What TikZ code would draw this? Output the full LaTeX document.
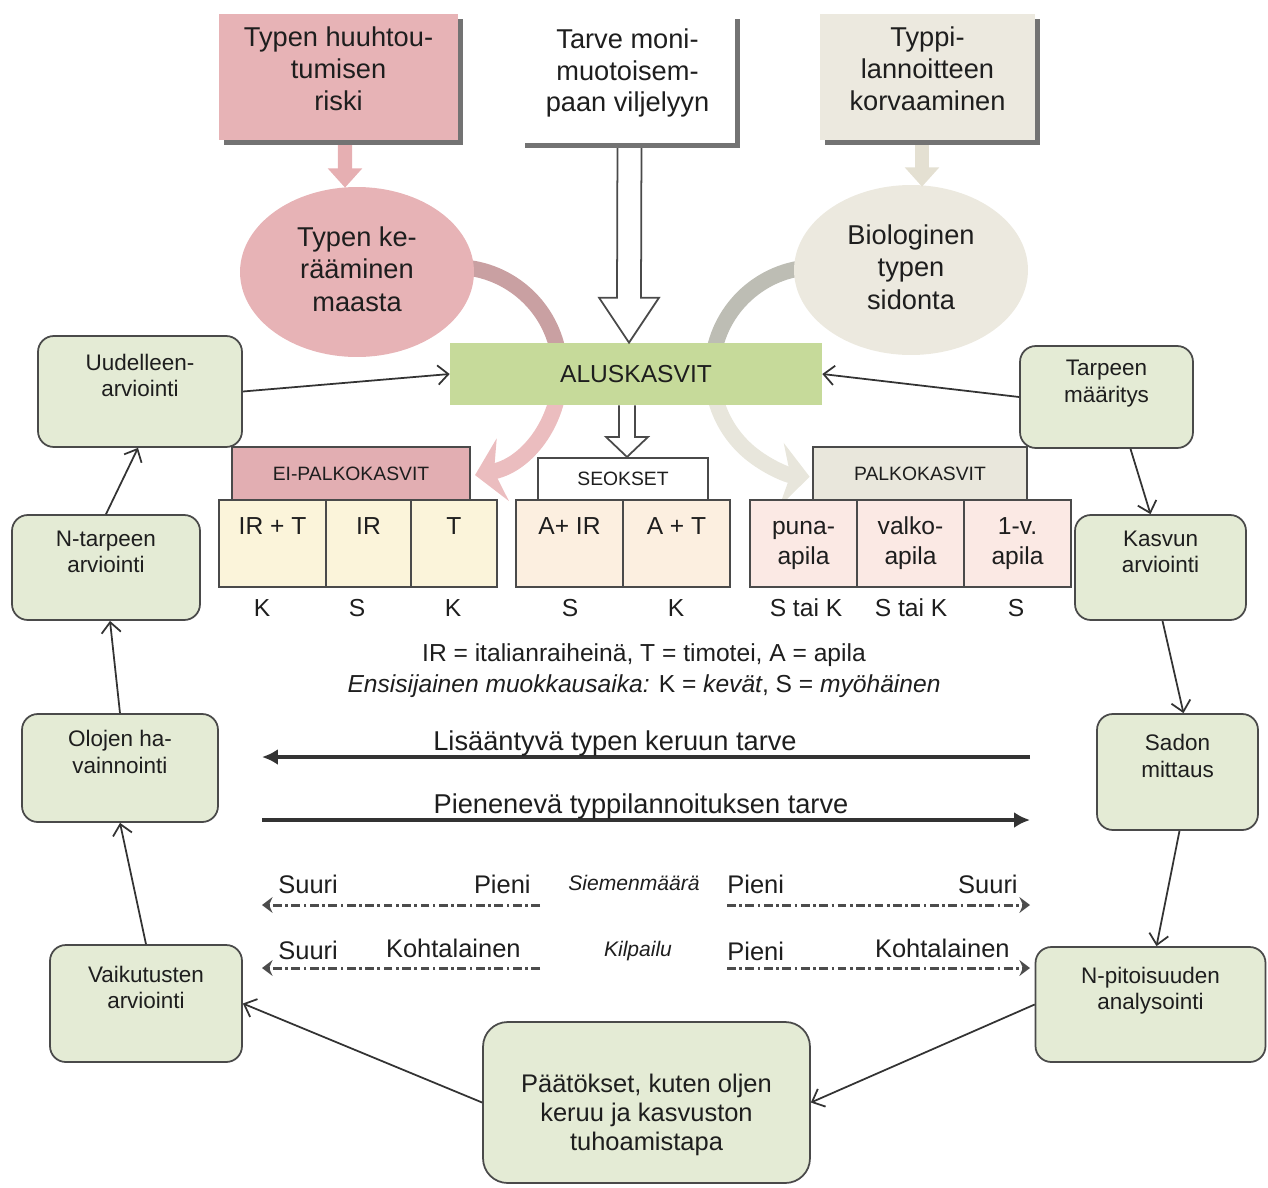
\documentclass[tikz,border=0pt]{standalone}
\usepackage{fontspec}
\setmainfont{Liberation Sans}
\usetikzlibrary{arrows.meta,shapes.geometric,calc,shadows}
\definecolor{pinkA}{HTML}{E7B3B6}
\definecolor{pinkArr}{HTML}{E6AFB2}
\definecolor{pinkArc}{HTML}{C9A0A2}
\definecolor{pinkArcL}{HTML}{EBBDBF}
\definecolor{beigeA}{HTML}{ECE9DF}
\definecolor{beigeArr}{HTML}{E4E0D2}
\definecolor{grayArc}{HTML}{BDBDB4}
\definecolor{grayArcL}{HTML}{E8E6DC}
\definecolor{greenA}{HTML}{C6DA9A}
\definecolor{sideG}{HTML}{E4EBD5}
\definecolor{hdrPink}{HTML}{E2AEB2}
\definecolor{hdrBeige}{HTML}{E9E7DC}
\definecolor{cellY}{HTML}{FBF4DA}
\definecolor{cellM}{HTML}{FCEFE0}
\definecolor{cellP}{HTML}{FBE9E4}
\definecolor{lineC}{HTML}{4A4A4A}
\definecolor{connC}{HTML}{333333}
\definecolor{txtC}{HTML}{1E1E1E}
\begin{document}
\begin{tikzpicture}[x=0.02cm, y=-0.02cm,
  every node/.style={text=txtC},
  topbox/.style={minimum height=2.52cm, align=center, inner sep=0pt,
    text height=42pt, text depth=4pt,
    font=\fontsize{15.5}{18.1}\selectfont,
    drop shadow={shadow xshift=3pt, shadow yshift=-3pt, fill=black!55, opacity=1}},
  ell/.style={ellipse, minimum width=4.68cm, minimum height=3.4cm, inner sep=0pt,
    align=center, font=\fontsize{15.5}{18.5}\selectfont},
  sidebox/.style={draw=lineC, fill=sideG, rounded corners=9pt, line width=1pt,
    align=center, inner sep=0pt, font=\fontsize{12.8}{15.3}\selectfont},
  hdr/.style={draw=lineC, line width=1.2pt, inner sep=0pt,
    font=\fontsize{11}{12}\selectfont},
  cellbox/.style={draw=lineC, line width=1.2pt, minimum height=1.74cm, inner sep=0pt,
    align=center, font=\fontsize{14}{17}\selectfont},
  letter/.style={anchor=base, inner sep=0pt, font=\fontsize{14}{16}\selectfont},
  leg/.style={anchor=base, inner sep=0pt, font=\fontsize{14}{16}\selectfont},
  bigl/.style={anchor=base, inner sep=0pt, font=\fontsize{15.5}{18}\selectfont},
  rowl/.style={inner sep=0pt, font=\fontsize{14.5}{17}\selectfont},
  smalli/.style={anchor=base, inner sep=0pt, font=\fontsize{12}{14}\selectfont\itshape},
  conn/.style={draw=connC, line width=1pt, -{Straight Barb[length=6pt,width=11pt]}},
  bigarrow/.style={draw=connC, line width=1.8pt, -{Latex[length=9pt,width=9pt]}},
  dashdot/.style={draw=black!70, line width=1.7pt, dash pattern=on 5pt off 2pt on 1.5pt off 2pt,
    -{Stealth[length=6pt,width=9pt,inset=2pt]}},
  fatarrow/.style={line width=8pt, -{Triangle[length=11pt,width=19pt]}},
  arcband/.style={line width=9pt},
  archead/.style={-{Stealth[length=16pt,width=36pt,inset=5pt]}},
  hollow/.style={fill=white, draw=lineC, line width=1pt, line join=miter}
]
\useasboundingbox (0,0) rectangle (1268,1187);

\path (357,272) coordinate (e1c);
\path (911,270) coordinate (e2c);

% curved arcs (behind ellipses and green box)
\coordinate (lc) at (455,372);
\coordinate (rc) at (817,372);
\draw[arcband, pinkArc] ($(lc)+(-90:105)$) arc[start angle=-90, end angle=-10, radius=105];
\draw[arcband, pinkArcL, archead] ($(lc)+(-10:105)$) arc[start angle=-10, end angle=79, radius=105];
\draw[arcband, grayArc] ($(rc)+(-90:105)$) arc[start angle=-90, end angle=-170, radius=105];
\draw[arcband, grayArcL, archead] ($(rc)+(-170:105)$) arc[start angle=-170, end angle=-266, radius=105];

% ellipses
\node[ell, fill=pinkA] (e1) at (e1c) {\strut Typen ke-\\\strut rääminen\\\strut maasta};
\node[ell, fill=beigeA] (e2) at (e2c) {\strut Biologinen\\\strut typen\\\strut sidonta};

\coordinate (b1c) at (338.5,77);
\coordinate (b2c) at (627.5,78.5);
\coordinate (b3c) at (927.5,77);

% green box
\node[fill=greenA, minimum width=7.44cm, minimum height=1.24cm, inner sep=0pt,
  font=\fontsize{14}{16}\selectfont] (alu) at (636,374) {ALUSKASVIT};

% small fat arrows
\path (338.5,140) coordinate (b1s) (927.5,140) coordinate (b3s) (627.5,143) coordinate (b2s);
\draw[fatarrow, pinkArr] ($(b1s)+(6.5,3)$) -- ($(e1.north)+(-12,1)$);
\draw[fatarrow, beigeArr] ($(b3s)+(-5.5,3)$) -- ($(e2.north)+(11,2)$);

% hollow arrow from top box 2 to green box
\filldraw[hollow] ($(b2s)+(-10,-3)$) -- ($(alu.north)+(-19,-45)$) -- ($(alu.north)+(-37,-45)$)
  -- ($(alu.north)+(-7,0)$) -- ($(alu.north)+(23,-45)$) -- ($(alu.north)+(5,-45)$) -- ($(b2s)+(14,-3)$);

% top boxes
\node[topbox, fill=pinkA, minimum width=4.78cm] (b1) at (b1c) {Typen huuhtou-\\tumisen\\riski};
\node[topbox, fill=white, minimum width=4.3cm, minimum height=2.58cm] (b2) at (b2c) {Tarve moni-\\muotoisem-\\paan viljelyyn};
\node[topbox, fill=beigeA, minimum width=4.3cm] (b3) at (b3c) {Typpi-\\lannoitteen\\korvaaminen};

% headers
\node[hdr, fill=hdrPink, minimum width=4.76cm, minimum height=1.06cm] (h1) at (351,473.5) {EI-PALKOKASVIT};
\node[hdr, fill=white, minimum width=3.4cm, minimum height=0.84cm] (h2) at (623,479) {SEOKSET};
\node[hdr, fill=hdrBeige, minimum width=4.28cm, minimum height=1.06cm] (h3) at (920,473.5) {PALKOKASVIT};

% hollow arrow green -> SEOKSET
\filldraw[hollow] ($(alu.south)+(-17,0)$) -- ($(h2.north)+(-4,-20)$) -- ($(h2.north)+(-17,-20)$)
  -- ($(h2.north)+(4,0)$) -- ($(h2.north)+(25,-20)$) -- ($(h2.north)+(12,-20)$) -- ($(alu.south)+(-1,0)$);

% cells
\node[cellbox, fill=cellY, minimum width=2.14cm] (c11) at (272.5,543.5) {\strut IR + T\\\strut};
\node[cellbox, fill=cellY, minimum width=1.7cm] (c12) at (368.5,543.5) {\strut IR\\\strut};
\node[cellbox, fill=cellY, minimum width=1.72cm] (c13) at (454,543.5) {\strut T\\\strut};
\node[cellbox, fill=cellM, minimum width=2.14cm] (c21) at (569.5,543.5) {\strut A+ IR\\\strut};
\node[cellbox, fill=cellM, minimum width=2.14cm] (c22) at (676.5,543.5) {\strut A + T\\\strut};
\node[cellbox, fill=cellP, minimum width=2.14cm] (c31) at (803.5,543.5) {\strut puna-\\\strut apila};
\node[cellbox, fill=cellP, minimum width=2.14cm] (c32) at (910.5,543.5) {\strut valko-\\\strut apila};
\node[cellbox, fill=cellP, minimum width=2.14cm] (c33) at (1017.5,543.5) {\strut 1-v.\\\strut apila};

% letters below
\node[letter] (k1) at (262,616) {K};
\node[letter] (k2) at (357,616) {S};
\node[letter] (k3) at (453,616) {K};
\node[letter] (k4) at (570,616) {S};
\node[letter] (k5) at (676,616) {K};
\node[letter] (k6) at (806,616) {S tai K};
\node[letter] (k7) at (911,616) {S tai K};
\node[letter] (k8) at (1016,616) {S};

% legend
\node[leg] (lg1) at (644,661) {IR = italianraiheinä, T = timotei, A = apila};
\node[leg] (lg2) at (644,692) {\textit{Ensisijainen muokkausaika:} K = \textit{kevät}, S = \textit{myöhäinen}};

% big horizontal arrows
\coordinate (l1r) at (1030,757);
\coordinate (l1l) at (262,757);
\coordinate (l2l) at (262,820);
\coordinate (l2r) at (1030,820);
\draw[bigarrow] (l1r) -- (l1l);
\draw[bigarrow] (l2l) -- (l2r);
\node[bigl] (t1) at (615,750) {Lisääntyvä typen keruun tarve};
\node[bigl] (t2) at (641,813) {Pienenevä typpilannoituksen tarve};

% dash-dot arrows
\coordinate (d1a) at (540,905); \coordinate (d1b) at (262,905);
\coordinate (d1c) at (727,905); \coordinate (d1d) at (1030,905);
\coordinate (d2a) at (540,968); \coordinate (d2b) at (262,968);
\coordinate (d2c) at (727,968); \coordinate (d2d) at (1030,968);
\draw[dashdot] (d1a) -- (d1b);
\draw[dashdot] (d1c) -- (d1d);
\draw[dashdot] (d2a) -- (d2b);
\draw[dashdot] (d2c) -- (d2d);
\node[rowl, anchor=base west] (r1a) at (278,893) {Suuri};
\node[rowl, anchor=base east] (r1b) at (531,893) {Pieni};
\node[smalli] (r1c) at (634,890) {Siemenmäärä};
\node[rowl, anchor=base west] (r1d) at (727,893) {Pieni};
\node[rowl, anchor=base east] (r1e) at (1018,893) {Suuri};
\node[rowl, anchor=base west] (r2a) at (278,959) {Suuri};
\node[rowl, anchor=base east] (r2b) at (521,957) {Kohtalainen};
\node[smalli] (r2c) at (638,956) {Kilpailu};
\node[rowl, anchor=base west] (r2d) at (727,960) {Pieni};
\node[rowl, anchor=base east] (r2e) at (1010,957) {Kohtalainen};

% side boxes
\node[sidebox, minimum width=4.08cm, minimum height=2.22cm] (uud) at (140,391.5) {\strut Uudelleen-\\\strut arviointi\\\strut};
\node[sidebox, minimum width=3.76cm, minimum height=2.1cm] (ntp) at (106,567.5) {\strut N-tarpeen\\\strut arviointi\\\strut};
\node[sidebox, minimum width=3.92cm, minimum height=2.16cm] (olo) at (120,768) {\strut Olojen ha-\\\strut vainnointi\\\strut};
\node[sidebox, minimum width=3.84cm, minimum height=2.34cm] (vai) at (146,1003.5) {\strut Vaikutusten\\\strut arviointi\\\strut};
\node[sidebox, minimum width=3.46cm, minimum height=2.04cm] (tar) at (1106.5,397) {\strut Tarpeen\\\strut määritys\\\strut};
\node[sidebox, minimum width=3.42cm, minimum height=2.1cm] (kas) at (1160.5,567.5) {\strut Kasvun\\\strut arviointi\\\strut};
\node[sidebox, minimum width=3.22cm, minimum height=2.32cm] (sad) at (1177.5,772) {\strut Sadon\\\strut mittaus\\\strut};
\node[sidebox, minimum width=4.6cm, minimum height=2.3cm] (npi) at (1150.5,1004.5) {\strut N-pitoisuuden\\\strut analysointi\\\strut};
\node[sidebox, rounded corners=14pt, minimum width=6.54cm, minimum height=3.22cm,
  text height=59pt, text depth=4pt,
  font=\fontsize{14.5}{16.7}\selectfont] (paa) at (646.5,1102.5) {Päätökset, kuten oljen\\keruu ja kasvuston\\tuhoamistapa};

% connectors
\draw[conn] (uud.east) -- (alu.west);
\draw[conn] (tar.west) -- (alu.east);
\draw[conn] ($(tar.south)+(24,0)$) -- ($(kas.north)+(-10,0)$);
\draw[conn] ($(kas.south)+(2,0)$) -- ($(sad.north)+(6,0)$);
\draw[conn] ($(sad.south)+(2,0)$) -- ($(npi.north)+(6,0)$);
\draw[conn] (npi.west) -- (paa.east);
\draw[conn] (paa.west) -- (vai.east);
\draw[conn] (vai.north) -- (olo.south);
\draw[conn] (olo.north) -- ($(ntp.south)+(4,0)$);
\draw[conn] (ntp.north) -- ($(uud.south)+(-2,0)$);
\end{tikzpicture}
\end{document}
